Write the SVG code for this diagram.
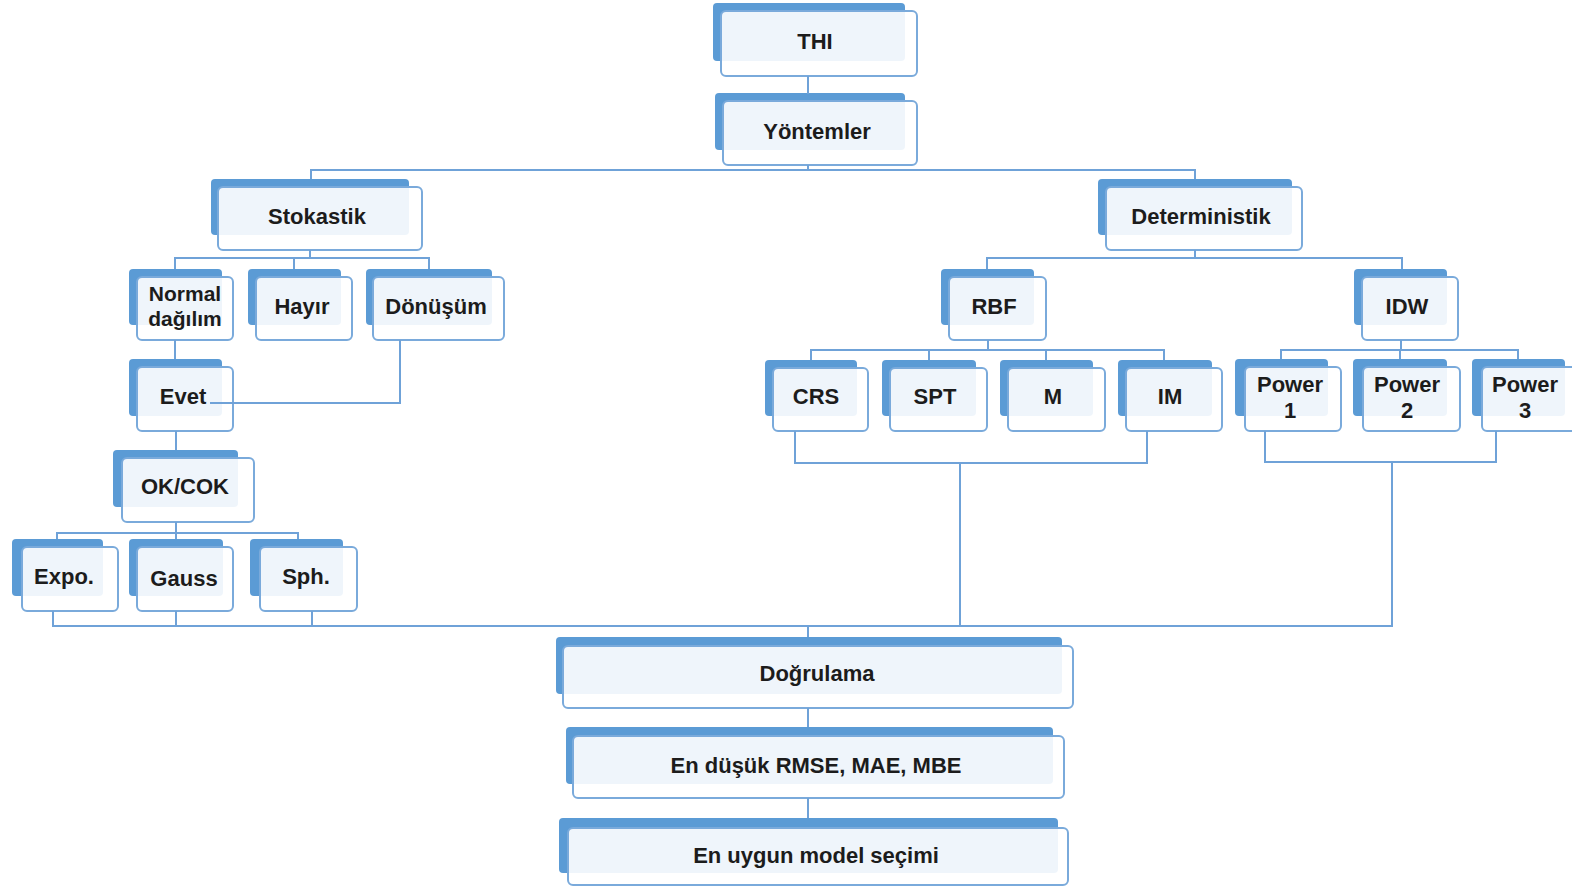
<svg xmlns="http://www.w3.org/2000/svg" width="1572" height="888" viewBox="0 0 1572 888">
<style>
.bk{fill:#5b9bd5}
.fr{fill:#ffffff;fill-opacity:0.9;stroke:#7aaadb;stroke-width:2}
.t{font-family:"Liberation Sans",Arial,sans-serif;font-weight:bold;font-size:22px;fill:#1c1c1c;text-anchor:middle;dominant-baseline:central}
.s{font-size:21px}
.c{fill:none;stroke:#6fa2d8;stroke-width:2}
</style>
<rect width="1572" height="888" fill="#ffffff"/>
<g id="n-thi"><rect class="bk" x="713" y="3" width="192" height="58" rx="4"/><rect class="fr" x="721" y="11" width="196" height="65" rx="5"/><text class="t" x="815" y="41">THI</text></g>
<g id="n-yontemler"><rect class="bk" x="715" y="93" width="190" height="57" rx="4"/><rect class="fr" x="723" y="101" width="194" height="64" rx="5"/><text class="t" x="817" y="131">Yöntemler</text></g>
<g id="n-stokastik"><rect class="bk" x="211" y="179" width="198" height="56" rx="4"/><rect class="fr" x="218" y="187" width="204" height="63" rx="5"/><text class="t" x="317" y="216">Stokastik</text></g>
<g id="n-deterministik"><rect class="bk" x="1098" y="179" width="194" height="56" rx="4"/><rect class="fr" x="1106" y="187" width="196" height="63" rx="5"/><text class="t" x="1201" y="216">Deterministik</text></g>
<g id="n-normal"><rect class="bk" x="129" y="269" width="93" height="56" rx="4"/><rect class="fr" x="137" y="277" width="96" height="63" rx="5"/><text class="t s" x="185" y="293">Normal</text><text class="t s" x="185" y="318">dağılım</text></g>
<g id="n-hayir"><rect class="bk" x="248" y="269" width="93" height="56" rx="4"/><rect class="fr" x="256" y="277" width="96" height="63" rx="5"/><text class="t" x="302" y="306">Hayır</text></g>
<g id="n-donusum"><rect class="bk" x="366" y="269" width="126" height="56" rx="4"/><rect class="fr" x="373" y="277" width="131" height="63" rx="5"/><text class="t" x="436" y="306">Dönüşüm</text></g>
<g id="n-rbf"><rect class="bk" x="941" y="269" width="93" height="56" rx="4"/><rect class="fr" x="949" y="277" width="97" height="63" rx="5"/><text class="t" x="994" y="306">RBF</text></g>
<g id="n-idw"><rect class="bk" x="1354" y="269" width="93" height="56" rx="4"/><rect class="fr" x="1362" y="277" width="96" height="63" rx="5"/><text class="t" x="1407" y="306">IDW</text></g>
<g id="n-evet"><rect class="bk" x="129" y="359" width="93" height="57" rx="4"/><rect class="fr" x="137" y="367" width="96" height="64" rx="5"/><text class="t" x="183" y="396">Evet</text></g>
<g id="n-crs"><rect class="bk" x="765" y="360" width="92" height="56" rx="4"/><rect class="fr" x="773" y="368" width="95" height="63" rx="5"/><text class="t" x="816" y="396">CRS</text></g>
<g id="n-spt"><rect class="bk" x="882" y="360" width="94" height="56" rx="4"/><rect class="fr" x="890" y="368" width="97" height="63" rx="5"/><text class="t" x="935" y="396">SPT</text></g>
<g id="n-m"><rect class="bk" x="1000" y="360" width="93" height="56" rx="4"/><rect class="fr" x="1008" y="368" width="97" height="63" rx="5"/><text class="t" x="1053" y="396">M</text></g>
<g id="n-im"><rect class="bk" x="1118" y="360" width="94" height="56" rx="4"/><rect class="fr" x="1126" y="368" width="96" height="63" rx="5"/><text class="t" x="1170" y="396">IM</text></g>
<g id="n-power1"><rect class="bk" x="1235" y="359" width="93" height="57" rx="4"/><rect class="fr" x="1245" y="367" width="96" height="64" rx="5"/><text class="t" x="1290" y="384">Power</text><text class="t" x="1290" y="410">1</text></g>
<g id="n-power2"><rect class="bk" x="1353" y="359" width="94" height="57" rx="4"/><rect class="fr" x="1363" y="367" width="97" height="64" rx="5"/><text class="t" x="1407" y="384">Power</text><text class="t" x="1407" y="410">2</text></g>
<g id="n-power3"><rect class="bk" x="1472" y="359" width="93" height="57" rx="4"/><rect class="fr" x="1482" y="367" width="97" height="64" rx="5"/><text class="t" x="1525" y="384">Power</text><text class="t" x="1525" y="410">3</text></g>
<g id="n-okcok"><rect class="bk" x="113" y="450" width="125" height="57" rx="4"/><rect class="fr" x="122" y="458" width="132" height="64" rx="5"/><text class="t" x="185" y="486">OK/COK</text></g>
<g id="n-expo"><rect class="bk" x="12" y="539" width="91" height="57" rx="4"/><rect class="fr" x="22" y="547" width="96" height="64" rx="5"/><text class="t" x="64" y="576">Expo.</text></g>
<g id="n-gauss"><rect class="bk" x="129" y="539" width="94" height="57" rx="4"/><rect class="fr" x="137" y="547" width="96" height="64" rx="5"/><text class="t" x="184" y="578">Gauss</text></g>
<g id="n-sph"><rect class="bk" x="250" y="539" width="93" height="57" rx="4"/><rect class="fr" x="260" y="547" width="97" height="64" rx="5"/><text class="t" x="306" y="576">Sph.</text></g>
<g id="n-dogrulama"><rect class="bk" x="556" y="637" width="506" height="57" rx="4"/><rect class="fr" x="563" y="646" width="510" height="62" rx="5"/><text class="t" x="817" y="673">Doğrulama</text></g>
<g id="n-endusuk"><rect class="bk" x="566" y="727" width="487" height="57" rx="4"/><rect class="fr" x="573" y="736" width="491" height="62" rx="5"/><text class="t" x="816" y="765">En düşük RMSE, MAE, MBE</text></g>
<g id="n-enuygun"><rect class="bk" x="559" y="818" width="499" height="55" rx="4"/><rect class="fr" x="568" y="828" width="500" height="57" rx="5"/><text class="t" x="816" y="855">En uygun model seçimi</text></g>
<g id="connectors">
<path class="c" d="M808,76 V94"/>
<path class="c" d="M808,165 V170"/>
<path class="c" d="M311,179 V170 H1195 V179"/>
<path class="c" d="M310,250 V258"/>
<path class="c" d="M175,269 V258 H429 V269"/>
<path class="c" d="M294,258 V269"/>
<path class="c" d="M1195,250 V258"/>
<path class="c" d="M987,269 V258 H1402 V269"/>
<path class="c" d="M175,340 V359"/>
<path class="c" d="M400,340 V403 H210"/>
<path class="c" d="M176,431 V450"/>
<path class="c" d="M176,522 V533"/>
<path class="c" d="M57,539 V533 H298 V539"/>
<path class="c" d="M176,533 V539"/>
<path class="c" d="M53,611 V626 H1392 V462"/>
<path class="c" d="M176,611 V626"/>
<path class="c" d="M312,611 V626"/>
<path class="c" d="M808,626 V637"/>
<path class="c" d="M988,340 V350"/>
<path class="c" d="M811,360 V350 H1164 V360"/>
<path class="c" d="M929,350 V360"/>
<path class="c" d="M1046,350 V360"/>
<path class="c" d="M1401,340 V350"/>
<path class="c" d="M1281,359 V350 H1518 V359"/>
<path class="c" d="M1400,350 V359"/>
<path class="c" d="M795,431 V463 H1147 V431"/>
<path class="c" d="M960,463 V626"/>
<path class="c" d="M1265,431 V462 H1496 V431"/>
<path class="c" d="M808,708 V727"/>
<path class="c" d="M808,798 V818"/>
</g>
</svg>
